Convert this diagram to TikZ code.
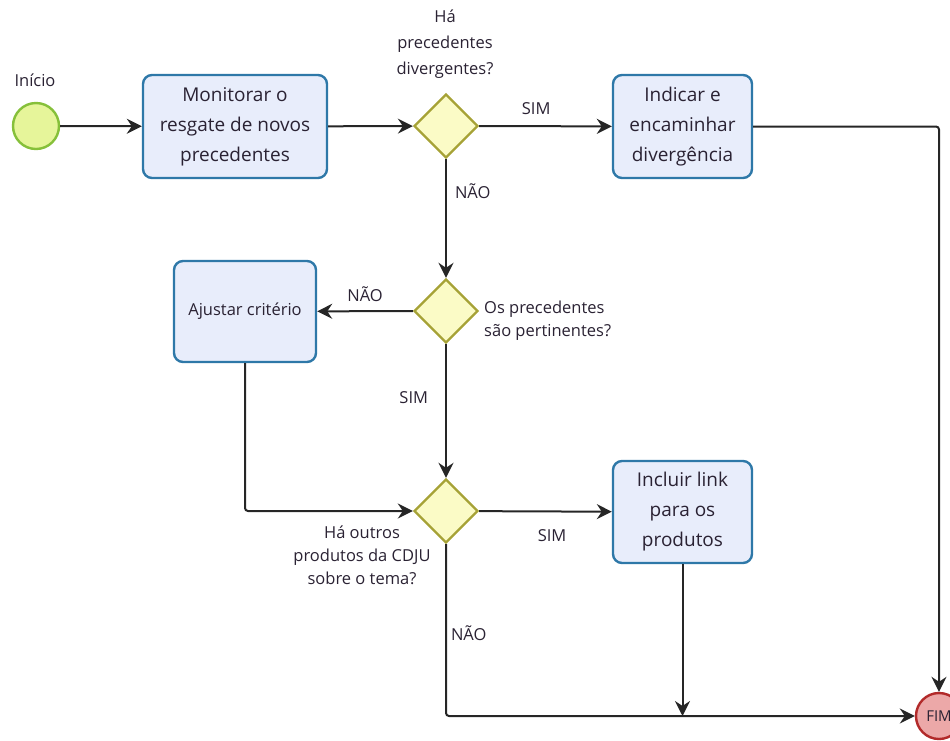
\documentclass[tikz,border=0pt]{standalone}
\usepackage{fontspec}
\setmainfont{Open Sans}
\usetikzlibrary{arrows.meta,shapes.geometric}
\definecolor{txt}{HTML}{2A2233}
\definecolor{boxfill}{HTML}{E8EDFB}
\definecolor{boxdraw}{HTML}{2E78A8}
\definecolor{gwfill}{HTML}{FBFBC6}
\definecolor{gwdraw}{HTML}{A6A236}
\definecolor{stfill}{HTML}{E6F59A}
\definecolor{stdraw}{HTML}{86C03A}
\definecolor{enfill}{HTML}{ECA8A8}
\definecolor{endraw}{HTML}{B22A2A}
\definecolor{ln}{HTML}{262626}
\tikzset{
  x=1pt, y=-1pt,
  every node/.style={text=txt, font=\fontsize{16.5}{20}\selectfont},
  task/.style={draw=boxdraw, fill=boxfill, line width=2.4pt, rounded corners=9pt, align=center,
     font=\fontsize{19}{30}\selectfont, inner sep=0pt},
  gw/.style={diamond, draw=gwdraw, fill=gwfill, line width=2.4pt, minimum width=64pt, minimum height=64pt, inner sep=0pt},
  flow/.style={draw=ln, line width=2pt, rounded corners=3pt, -{Stealth[length=15pt,width=15pt,inset=5pt]}},
  lbl/.style={align=center, inner sep=0pt, font=\fontsize{16.5}{26}\selectfont}
}
\begin{document}
\begin{tikzpicture}
\useasboundingbox (0,0) rectangle (950,740);
% start
\node[circle, draw=stdraw, fill=stfill, line width=2.4pt, minimum size=46pt, inner sep=0pt] (start) at (36,126) {};
\node[lbl] (startl) at (35,80) {Início};
% tasks
\node[task, minimum width=184pt, minimum height=103pt] (t1) at (235,126.5) {Monitorar o\\resgate de novos\\precedentes};
\node[task, minimum width=139pt, minimum height=103pt] (t2) at (682.5,126.5) {Indicar e\\encaminhar\\divergência};
\node[task, minimum width=142pt, minimum height=101pt, font=\fontsize{16.5}{20}\selectfont] (t3) at (245,311.5) {Ajustar critério};
\node[task, minimum width=139pt, minimum height=102pt] (t4) at (682.5,512) {Incluir link\\para os\\produtos};
% gateways
\node[gw] (g1) at (446,126) {};
\node[gw] (g2) at (446,311) {};
\node[gw] (g3) at (446,511) {};
% end
\node[circle, draw=endraw, fill=enfill, line width=2.4pt, minimum size=46pt, inner sep=0pt, font=\fontsize{15}{18}\selectfont] (fim) at (939,716) {FIM};
% gateway labels
\node[lbl] (g1l) at (445,44) {Há\\precedentes\\divergentes?};
\node[lbl, align=left, anchor=west, font=\fontsize{16.5}{23}\selectfont] (g2l) at (484,321) {Os precedentes\\são pertinentes?};
\node[lbl, font=\fontsize{16.5}{23}\selectfont] (g3l) at (362,555) {Há outros\\produtos da CDJU\\sobre o tema?};
% connectors
\draw[flow] (start) -- (t1);
\draw[flow] (t1) -- (g1);
\draw[flow] (g1) -- node[lbl, above=11pt, pos=0.43] {SIM} (t2);
\draw[flow] (g1) -- node[lbl, right=8pt, pos=0.27] {NÃO} (g2);
\draw[flow] (g2) -- node[lbl, above=9pt] {NÃO} (t3);
\draw[flow] (g2) -- node[lbl, left=17pt, pos=0.4] {SIM} (g3);
\draw[flow] (t3.south) |- (g3.west);
\draw[flow] (g3) -- node[lbl, below=17pt, pos=0.55] {SIM} (t4);
\coordinate (j1) at (t4.south |- fim.west);
\draw[flow] (t4.south) -- (j1);
\draw[flow] (g3.south) |- node[lbl, pos=0.26, right=4pt] {NÃO} (fim.west);
\draw[flow] (t2.east) -| (fim.north);
\end{tikzpicture}
\end{document}
